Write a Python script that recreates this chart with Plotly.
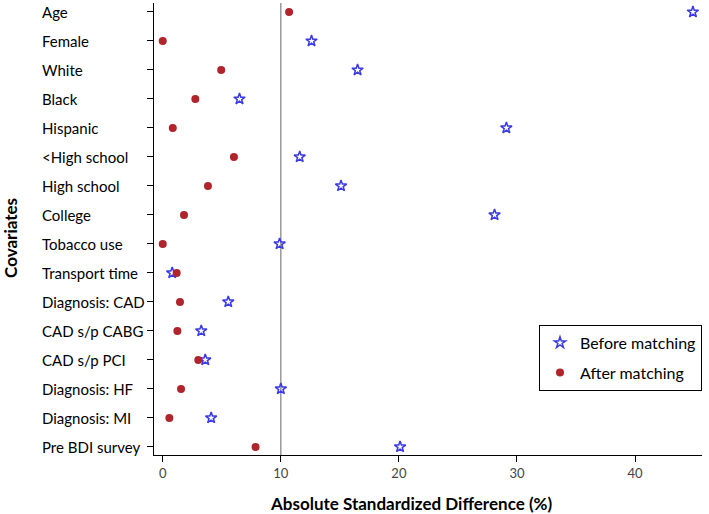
import plotly.graph_objects as go

categories = ["Age", "Female", "White", "Black", "Hispanic", "<High school", "High school",
              "College", "Tobacco use", "Transport time", "Diagnosis: CAD", "CAD s/p CABG",
              "CAD s/p PCI", "Diagnosis: HF", "Diagnosis: MI", "Pre BDI survey"]
before_matching = [44.9, 12.6, 16.5, 6.5, 29.1, 11.6, 15.1, 28.1, 9.9, 0.8, 5.55, 3.26, 3.6, 10.0, 4.1, 20.1]
after_matching = [10.7, 0.0, 4.95, 2.76, 0.85, 6.03, 3.83, 1.8, 0.0, 1.18, 1.46, 1.24, 3.01, 1.55, 0.56, 7.86]
x_ticks = [0, 10, 20, 30, 40]
reference_line = 10

FONT = "Lato"

fig = go.Figure()
fig.add_trace(go.Scatter(
    x=before_matching, y=categories, mode="markers", name="Before matching",
    legendgroup="a",
    marker=dict(symbol="star-open", size=8.5, color="#3a3ae6", line=dict(width=1.5, color="#3a3ae6")),
))
fig.add_trace(go.Scatter(
    x=after_matching, y=categories, mode="markers", name="After matching",
    legendgroup="b",
    marker=dict(symbol="circle", size=8, color="#b0242b"),
))

fig.add_shape(type="line", xref="x", yref="paper", x0=reference_line, x1=reference_line,
              y0=0, y1=1, line=dict(color="#8a8a8a", width=1.3), layer="below")

for c in categories:
    fig.add_annotation(x=-0.208, xref="paper", y=c, yref="y", text=c, showarrow=False,
                       xanchor="left", yanchor="middle", font=dict(family=FONT, size=15, color="#000"))

fig.add_annotation(x=0.469, xref="paper", y=-0.107, yref="paper", yanchor="middle",
                   text="<b>Absolute Standardized Difference (%)</b>", showarrow=False,
                   font=dict(family=FONT, size=17, color="#000"))
fig.add_annotation(x=-0.263, xref="paper", y=0.48, yref="paper", textangle=-90,
                   text="<b>Covariates</b>", showarrow=False, xanchor="center",
                   font=dict(family=FONT, size=17, color="#000"))

fig.update_layout(
    width=709, height=514,
    margin=dict(l=154, r=7, t=3, b=59),
    plot_bgcolor="white", paper_bgcolor="white",
    font=dict(family=FONT),
    showlegend=True,
    legend=dict(x=1.0, y=0.288, xanchor="right", yanchor="top",
                bordercolor="#000", borderwidth=1, bgcolor="white",
                font=dict(family=FONT, size=16, color="#000"),
                tracegroupgap=6, traceorder="grouped"),
    xaxis=dict(range=[-0.74, 45.67], tickvals=x_ticks, showgrid=False, zeroline=False,
               showline=True, linecolor="#000", linewidth=1.2, ticks="outside", ticklen=6,
               tickcolor="#000", tickfont=dict(family=FONT, size=13, color="#444")),
    yaxis=dict(categoryorder="array", categoryarray=categories[::-1], range=[-0.28, 15.31],
               showgrid=False, zeroline=False, showticklabels=False,
               showline=True, linecolor="#000", linewidth=1.2, ticks="outside", ticklen=6,
               tickcolor="#000"),
)

fig.write_html("out.html", config={"displayModeBar": False},
               post_script="document.body.style.margin='0px';")
